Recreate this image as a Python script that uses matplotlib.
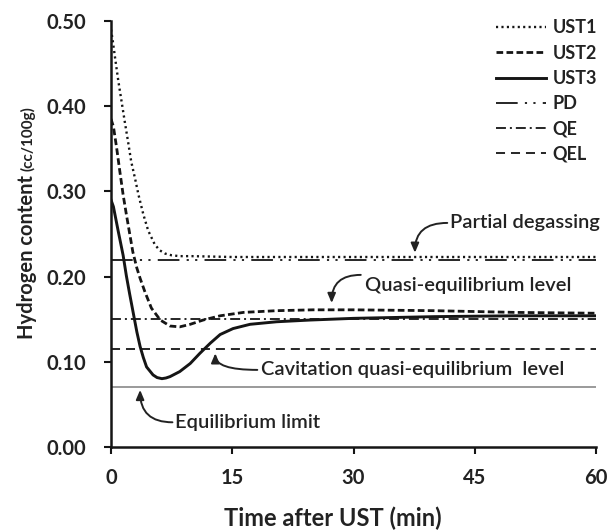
import matplotlib
matplotlib.use("Agg")
import matplotlib.pyplot as plt

plt.rcParams['font.family'] = ['Lato', 'DejaVu Sans']

# ---- data ----
t_ust1 = [0, 0.2, 0.5, 0.9, 1.3, 1.7, 2.1, 2.5, 3.0, 3.4, 4.0, 4.6, 5.4, 6.0, 6.7, 7.5, 8.5, 10, 15, 20, 30, 40, 50, 60]
v_ust1 = [0.490, 0.478, 0.457, 0.430, 0.406, 0.382, 0.359, 0.335, 0.314, 0.296, 0.273, 0.254, 0.238, 0.231,
          0.227, 0.225, 0.224, 0.224, 0.223, 0.223, 0.223, 0.223, 0.223, 0.223]

t_ust2 = [0, 0.3, 0.7, 1.1, 1.5, 1.9, 2.3, 2.7, 3.2, 3.6, 4.2, 5.0, 6.1, 7.3, 8.5, 9.8, 11.4, 13.5, 16.4,
          20.5, 25, 30, 40, 50, 60]
v_ust2 = [0.385, 0.376, 0.351, 0.323, 0.296, 0.273, 0.251, 0.229, 0.210, 0.198, 0.182, 0.163, 0.149, 0.142,
          0.141, 0.144, 0.149, 0.154, 0.158, 0.160, 0.161, 0.161, 0.160, 0.158, 0.157]

t_ust3 = [0, 0.3, 0.9, 1.5, 1.9, 2.3, 2.8, 3.2, 3.6, 4.0, 4.4, 5.2, 5.7, 6.3, 6.8, 7.3, 8.5, 9.8, 11.0, 12.3,
          13.5, 15.1, 17.2, 20.5, 24.6, 30, 40, 50, 60]
v_ust3 = [0.290, 0.282, 0.253, 0.225, 0.201, 0.180, 0.155, 0.135, 0.118, 0.105, 0.094, 0.0846, 0.0815, 0.0802,
          0.0810, 0.0826, 0.0885, 0.098, 0.110, 0.122, 0.132, 0.139, 0.144, 0.147, 0.149, 0.151, 0.153,
          0.154, 0.154]

t_span = [0, 60]
pd_level = 0.22
qe_level = 0.15
qel_level = 0.115
eq_limit = 0.07

x_ticks = [0, 15, 30, 45, 60]
y_ticks = [0.00, 0.10, 0.20, 0.30, 0.40, 0.50]

ann_texts = ["Partial degassing", "Quasi-equilibrium level",
             "Cavitation quasi-equilibrium  level", "Equilibrium limit"]
ann_tips = [(37.6, 0.228), (27.3, 0.169), (12.9, 0.110), (3.6, 0.067)]
ann_tails = [(41.6, 0.263), (30.9, 0.202), (18.1, 0.0905), (7.6, 0.029)]
ann_text_pos = [(41.9, 0.263), (31.4, 0.190), (18.5, 0.0905), (7.9, 0.029)]

# ---- figure ----
W, H = 608, 532
fig = plt.figure(figsize=(W / 100, H / 100), dpi=100)
ax = fig.add_axes([111 / W, 1 - 447 / H, 485 / W, 426 / H])

ink = '#151515'
txtc = '#222222'
ax.plot(t_span, [eq_limit] * 2, color='#9a9a9a', lw=1.4, zorder=1)
ax.plot(t_span, [pd_level] * 2, color=ink, lw=1.3, dashes=(12, 4, 1.2, 3.5, 1.2, 4), label='PD', zorder=2)
ax.plot(t_span, [qe_level] * 2, color=ink, lw=1.3, dashes=(5.5, 2.2, 1.1, 2.2), label='QE', zorder=2)
ax.plot(t_span, [qel_level] * 2, color=ink, lw=1.3, dashes=(5, 3.3), label='QEL', zorder=2)

ax.plot(t_ust1, v_ust1, color=ink, lw=1.7, dashes=(0.9, 1.4), label='UST1', zorder=3)
ax.plot(t_ust2, v_ust2, color=ink, lw=2.0, dashes=(2.4, 1.2), label='UST2', zorder=3)
ax.plot(t_ust3, v_ust3, color=ink, lw=2.1, label='UST3', zorder=3)

ax.set_xlim(0, 60)
ax.set_ylim(0, 0.5)
ax.set_xticks(x_ticks)
ax.set_yticks(y_ticks)
ax.set_xticklabels([str(v) for v in x_ticks])
ax.set_yticklabels([f"{v:.2f}" for v in y_ticks])
for s in ['top', 'right']:
    ax.spines[s].set_visible(False)
for s in ['left', 'bottom']:
    ax.spines[s].set_linewidth(1.8)
    ax.spines[s].set_color(ink)
ax.tick_params(direction='out', length=5, width=1.5, color=ink, labelsize=14.5,
               labelcolor=txtc)
ax.tick_params(axis='y', pad=13)
ax.tick_params(axis='x', pad=10)
for lab in ax.get_xticklabels() + ax.get_yticklabels():
    lab.set_fontweight('bold')

# legend
handles = {h.get_label(): h for h in ax.get_lines() if not h.get_label().startswith('_')}
order = ['UST1', 'UST2', 'UST3', 'PD', 'QE', 'QEL']
leg = ax.legend([handles[k] for k in order], order, loc='upper right',
                bbox_to_anchor=(1.0 + 8 / 485, 1.0 + 9 / 426), frameon=False,
                prop=dict(family=['Lato', 'DejaVu Sans'], size=13, weight='bold'),
                handlelength=2.75, handletextpad=0.35, labelspacing=0.46,
                borderaxespad=0.0)
for txt in leg.get_texts():
    txt.set_color(txtc)

# annotations: text plus a curved arrow from the text to the mark
for label, tip, tail, pos in zip(ann_texts, ann_tips, ann_tails, ann_text_pos):
    ax.text(pos[0], pos[1], label, ha='left', va='center', fontsize=14.5, color=txtc,
            fontweight='semibold')
    ax.annotate('', xy=tip, xytext=tail,
                arrowprops=dict(arrowstyle='-|>,head_length=0.4,head_width=0.17',
                                connectionstyle='angle3,angleA=0,angleB=90',
                                color=txtc, lw=1.4, shrinkA=0, shrinkB=0,
                                mutation_scale=14))

# axis labels
fig.text(333 / W, 1 - 518 / H, "Time after UST (min)", ha='center', va='center',
         fontsize=17, fontweight='bold', color=txtc)
xb = 33 / W
fig.text(xb, 1 - 175 / H, "Hydrogen content", rotation=90, rotation_mode='anchor',
         ha='right', va='baseline', fontsize=14.5, fontweight='bold', color=txtc)
fig.text(xb, 1 - 171 / H, "(cc/100g)", rotation=90, rotation_mode='anchor',
         ha='left', va='baseline', fontsize=11, fontweight='bold', color=txtc)

fig.savefig('out.png', dpi=100)
